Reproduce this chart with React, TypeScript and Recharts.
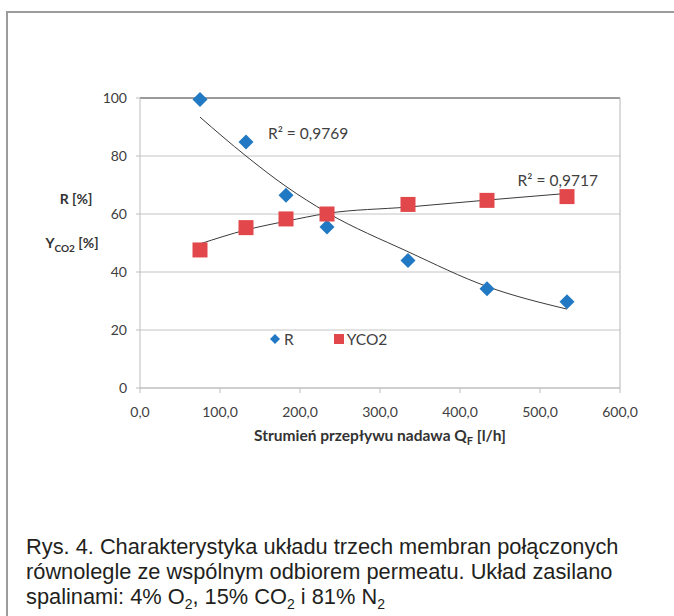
import React from 'react'
import {
  ComposedChart,
  Scatter,
  Line,
  XAxis,
  YAxis,
  CartesianGrid,
  ReferenceDot,
  ReferenceLine,
} from 'recharts'

// Feed flow Q_F [l/h] at each measurement
const flows = [75, 132.5, 182.5, 233.75, 335, 433.75, 533.75]
// R [%] measured
const rValues = [99.5, 84.8, 66.5, 55.5, 44, 34.2, 29.7]
// Y_CO2 [%] measured
const yco2Values = [47.6, 55.3, 58.3, 60.0, 63.3, 64.7, 66.0]
// trendline values at the same flows
const rTrend = [93.4, 80.0, 69.5, 60.5, 47.0, 35.0, 27.2]
const yco2Trend = [49.7, 54.5, 57.5, 60.2, 62.4, 64.8, 67.1]

const xTicks = [0, 100, 200, 300, 400, 500, 600]
const yTicks = [0, 20, 40, 60, 80, 100]

const rPoints = flows.map((x, i) => ({ x, y: rValues[i] }))
const yPoints = flows.map((x, i) => ({ x, y: yco2Values[i] }))
const rTrendPts = flows.map((x, i) => ({ x, y: rTrend[i] }))
const yTrendPts = flows.map((x, i) => ({ x, y: yco2Trend[i] }))

const BLUE = '#2279c3'
const RED = '#e2474b'
const CHART_FONT = 'Lato, "Open Sans", sans-serif'

function Diamond(props: any) {
  const { cx, cy } = props
  const h = 7.5
  return (
    <polygon
      points={`${cx},${cy - h} ${cx + h},${cy} ${cx},${cy + h} ${cx - h},${cy}`}
      fill={BLUE}
    />
  )
}

function Square(props: any) {
  const { cx, cy } = props
  return <rect x={cx - 7.5} y={cy - 7.5} width={15} height={15} fill={RED} />
}

// legend sits inside the plot, like the Excel original
function LegendBox() {
  return (
    <div style={{ display: 'flex', alignItems: 'center', fontFamily: CHART_FONT, fontSize: 15.5, color: '#404040' }}>
      <svg width={10} height={10} style={{ marginRight: 4 }}>
        <polygon points="5,0 10,5 5,10 0,5" fill={BLUE} />
      </svg>
      <span style={{ marginRight: 40 }}>R</span>
      <svg width={10} height={10} style={{ marginRight: 3 }}>
        <rect width={10} height={10} fill={RED} />
      </svg>
      <span>YCO2</span>
    </div>
  )
}

function r2Label(text: string) {
  return (p: any) => (
    <text
      x={p.viewBox.x}
      y={p.viewBox.y}
      dominantBaseline="central"
      fontFamily={CHART_FONT}
      fontSize={15.5}
      fill="#404040"
    >
      {text}
    </text>
  )
}

const fmt = (v: number) => v.toFixed(1).replace('.', ',')

export default function App() {
  return (
    <div style={{ position: 'absolute', left: 0, top: 0, width: 674, height: 616, overflow: 'hidden', background: '#fff' }}>
      {/* page frame */}
      <div
        style={{
          position: 'absolute',
          left: 6,
          top: 11,
          width: 700,
          height: 640,
          borderLeft: '2px solid #9c9c9c',
          borderTop: '2px solid #9c9c9c',
        }}
      />

      <div style={{ position: 'absolute', left: 0, top: 0 }}>
        <ComposedChart width={674} height={470} margin={{ top: 98, right: 54, bottom: 52, left: 80 }}>
          <CartesianGrid horizontal vertical={false} stroke="#c4c4c4" />
          <XAxis
            type="number"
            dataKey="x"
            domain={[0, 600]}
            ticks={xTicks}
            tickFormatter={fmt}
            stroke="#bdbdbd"
            tickSize={5}
            tickMargin={14}
            tick={{ fill: '#404040', fontSize: 14, fontFamily: CHART_FONT }}
            height={30}
          />
          <YAxis
            type="number"
            dataKey="y"
            domain={[0, 100]}
            ticks={yTicks}
            stroke="#bdbdbd"
            tickSize={4}
            tickMargin={9}
            tick={{ fill: '#404040', fontSize: 14, fontFamily: CHART_FONT }}
            width={60}
          />
          <ReferenceLine y={100} stroke="#555" />
          <ReferenceLine x={600} stroke="#b5b5b5" />
          <Line data={rTrendPts} dataKey="y" type="monotone" stroke="#3a3a3a" strokeWidth={1} dot={false} isAnimationActive={false} legendType="none" />
          <Line data={yTrendPts} dataKey="y" type="monotone" stroke="#3a3a3a" strokeWidth={1} dot={false} isAnimationActive={false} legendType="none" />
          <Scatter name="R" data={rPoints} shape={<Diamond />} isAnimationActive={false} />
          <Scatter name="YCO2" data={yPoints} shape={<Square />} isAnimationActive={false} />
          <ReferenceDot x={160} y={88} r={0} label={r2Label('R² = 0,9769')} />
          <ReferenceDot x={472} y={71.7} r={0} label={r2Label('R² = 0,9717')} />
        </ComposedChart>
      </div>

      <div style={{ position: 'absolute', left: 270, top: 330 }}>
        <LegendBox />
      </div>

      {/* y axis titles */}
      <div style={{ position: 'absolute', left: 40, top: 190, width: 72, textAlign: 'center', fontFamily: CHART_FONT, fontWeight: 700, fontSize: 14, color: '#333' }}>
        R [%]
      </div>
      <div style={{ position: 'absolute', left: 36, top: 234, width: 72, textAlign: 'center', fontFamily: CHART_FONT, fontWeight: 700, fontSize: 14, color: '#333' }}>
        Y<sub style={{ fontSize: 10 }}>CO2</sub> [%]
      </div>

      {/* x axis title */}
      <div style={{ position: 'absolute', left: 140, top: 426, width: 480, textAlign: 'center', fontFamily: CHART_FONT, fontWeight: 700, fontSize: 15.5, color: '#333' }}>
        Strumień przepływu nadawa Q<sub style={{ fontSize: 11 }}>F</sub> [l/h]
      </div>

      {/* caption */}
      <div
        style={{
          position: 'absolute',
          left: 26,
          top: 534,
          width: 646,
          fontFamily: '"Liberation Sans", Arial, sans-serif',
          fontSize: 21.8,
          lineHeight: '25px',
          color: '#231f20',
          whiteSpace: 'nowrap',
        }}
      >
        Rys. 4. Charakterystyka układu trzech membran połączonych
        <br />
        równolegle ze wspólnym odbiorem permeatu. Układ zasilano
        <br />
        spalinami: 4% O<sub style={{ fontSize: 14, lineHeight: 0 }}>2</sub>, 15% CO<sub style={{ fontSize: 14, lineHeight: 0 }}>2</sub> i 81% N
        <sub style={{ fontSize: 14, lineHeight: 0 }}>2</sub>
      </div>
    </div>
  )
}
